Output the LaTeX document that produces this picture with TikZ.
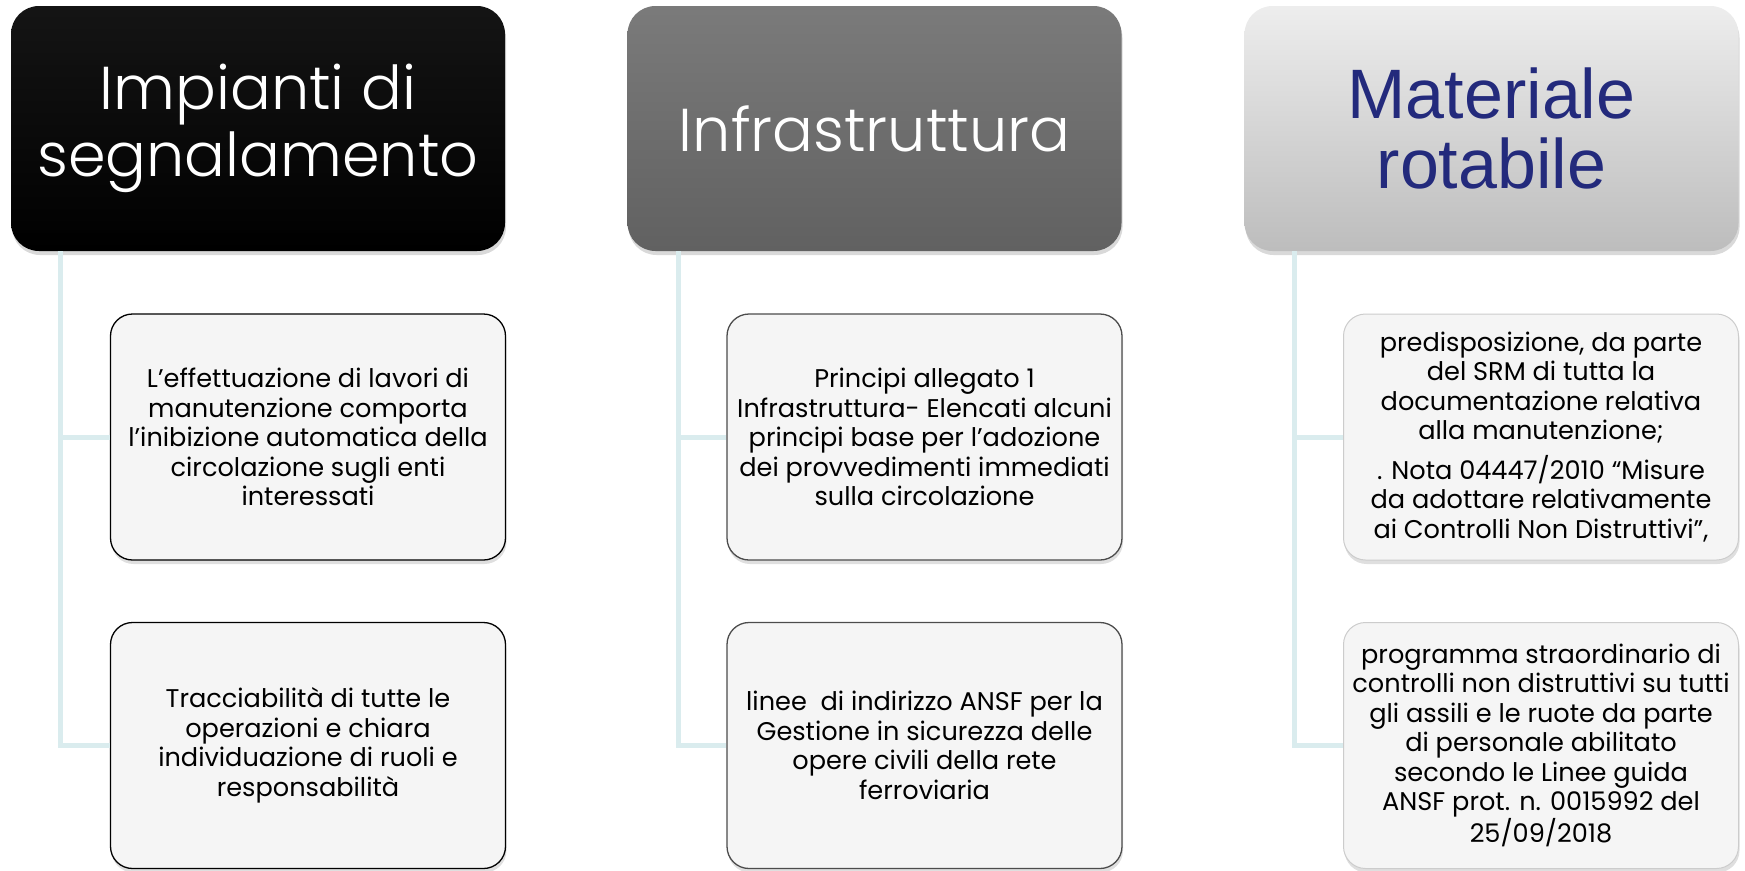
\documentclass[tikz,border=0pt]{standalone}
\usepackage{fontspec}
\usetikzlibrary{shadows}
\setmainfont{Poppins}
\IfFontExistsTF{Poppins Light}{\newfontfamily\headfont{Poppins Light}}{\newfontfamily\headfont{Poppins}}
\newfontfamily\rotfont{Liberation Sans}
\definecolor{linkcol}{HTML}{DAECEE}
\definecolor{rotablue}{HTML}{232A7C}
\definecolor{leafgray}{HTML}{F5F5F5}
\tikzset{
  head/.style={rounded corners=28pt, minimum width=494pt, minimum height=245pt, align=center,
    drop shadow={opacity=0.3, shadow xshift=1pt, shadow yshift=-4pt}},
  leaf/.style={rounded corners=22pt, minimum width=395pt, minimum height=246pt, align=center,
    fill=leafgray, line width=1.3pt, font=\fontsize{25.6}{29.5}\selectfont,
    drop shadow={opacity=0.25, shadow xshift=1pt, shadow yshift=-4pt}},
  link/.style={draw=linkcol, line width=5pt}
}
\begin{document}
\begin{tikzpicture}[x=1pt,y=1pt]
\useasboundingbox (0,0) rectangle (1745,-870);
\node [head, top color=black!92, bottom color=black, text=white, font=\headfont\fontsize{60.5}{67}\selectfont] (imp) at (258,-128.5) {Impianti di\\segnalamento};
\node [head, top color=black!52, bottom color=black!62, text=white, font=\headfont\fontsize{60.5}{67}\selectfont] (infra) at (874.5,-128.5) {Infrastruttura};
\node [head, top color=black!7, bottom color=black!26, text=rotablue, font=\rotfont\fontsize{70}{70}\selectfont] (mat) at (1491.5,-128.5) {Materiale\\rotabile};
\node [leaf, draw=black] (effett) at (308,-437) {L’effettuazione di lavori di\\manutenzione comporta\\l’inibizione automatica della\\circolazione sugli enti\\interessati};
\node [leaf, draw=black] (tracc) at (308,-745.5) {Tracciabilità di tutte le\\operazioni e chiara\\individuazione di ruoli e\\responsabilità};
\node [leaf, draw=black!70] (princ) at (924.5,-437) {Principi allegato 1\\Infrastruttura- Elencati alcuni\\principi base per l’adozione\\dei provvedimenti immediati\\sulla circolazione};
\node [leaf, draw=black!70] (linee) at (924.5,-745.5) {linee\ \ di indirizzo ANSF per la\\Gestione in sicurezza delle\\opere civili della rete\\ferroviaria};
\node [leaf, draw=black!20, line width=1pt] (predisp) at (1541,-437) {predisposizione, da parte\\del SRM di tutta la\\documentazione relativa\\alla manutenzione;\\[10pt]. Nota 04447/2010 “Misure\\da adottare relativamente\\ai Controlli Non Distruttivi”,};
\node [leaf, draw=black!20, line width=1pt] (progr) at (1541,-745.5) {programma straordinario di\\controlli non distruttivi su tutti\\gli assili e le ruote da parte\\di personale abilitato\\secondo le Linee guida\\ANSF prot. n. 0015992 del\\25/09/2018};
\coordinate (impt) at ([xshift=50pt]imp.south west);
\coordinate (infrat) at ([xshift=51pt]infra.south west);
\coordinate (matt) at ([xshift=50pt]mat.south west);
\draw [link] (impt) |- (effett.west);
\draw [link] (impt) |- (tracc.west);
\draw [link] (infrat) |- (princ.west);
\draw [link] (infrat) |- (linee.west);
\draw [link] (matt) |- (predisp.west);
\draw [link] (matt) |- (progr.west);
\end{tikzpicture}
\end{document}
